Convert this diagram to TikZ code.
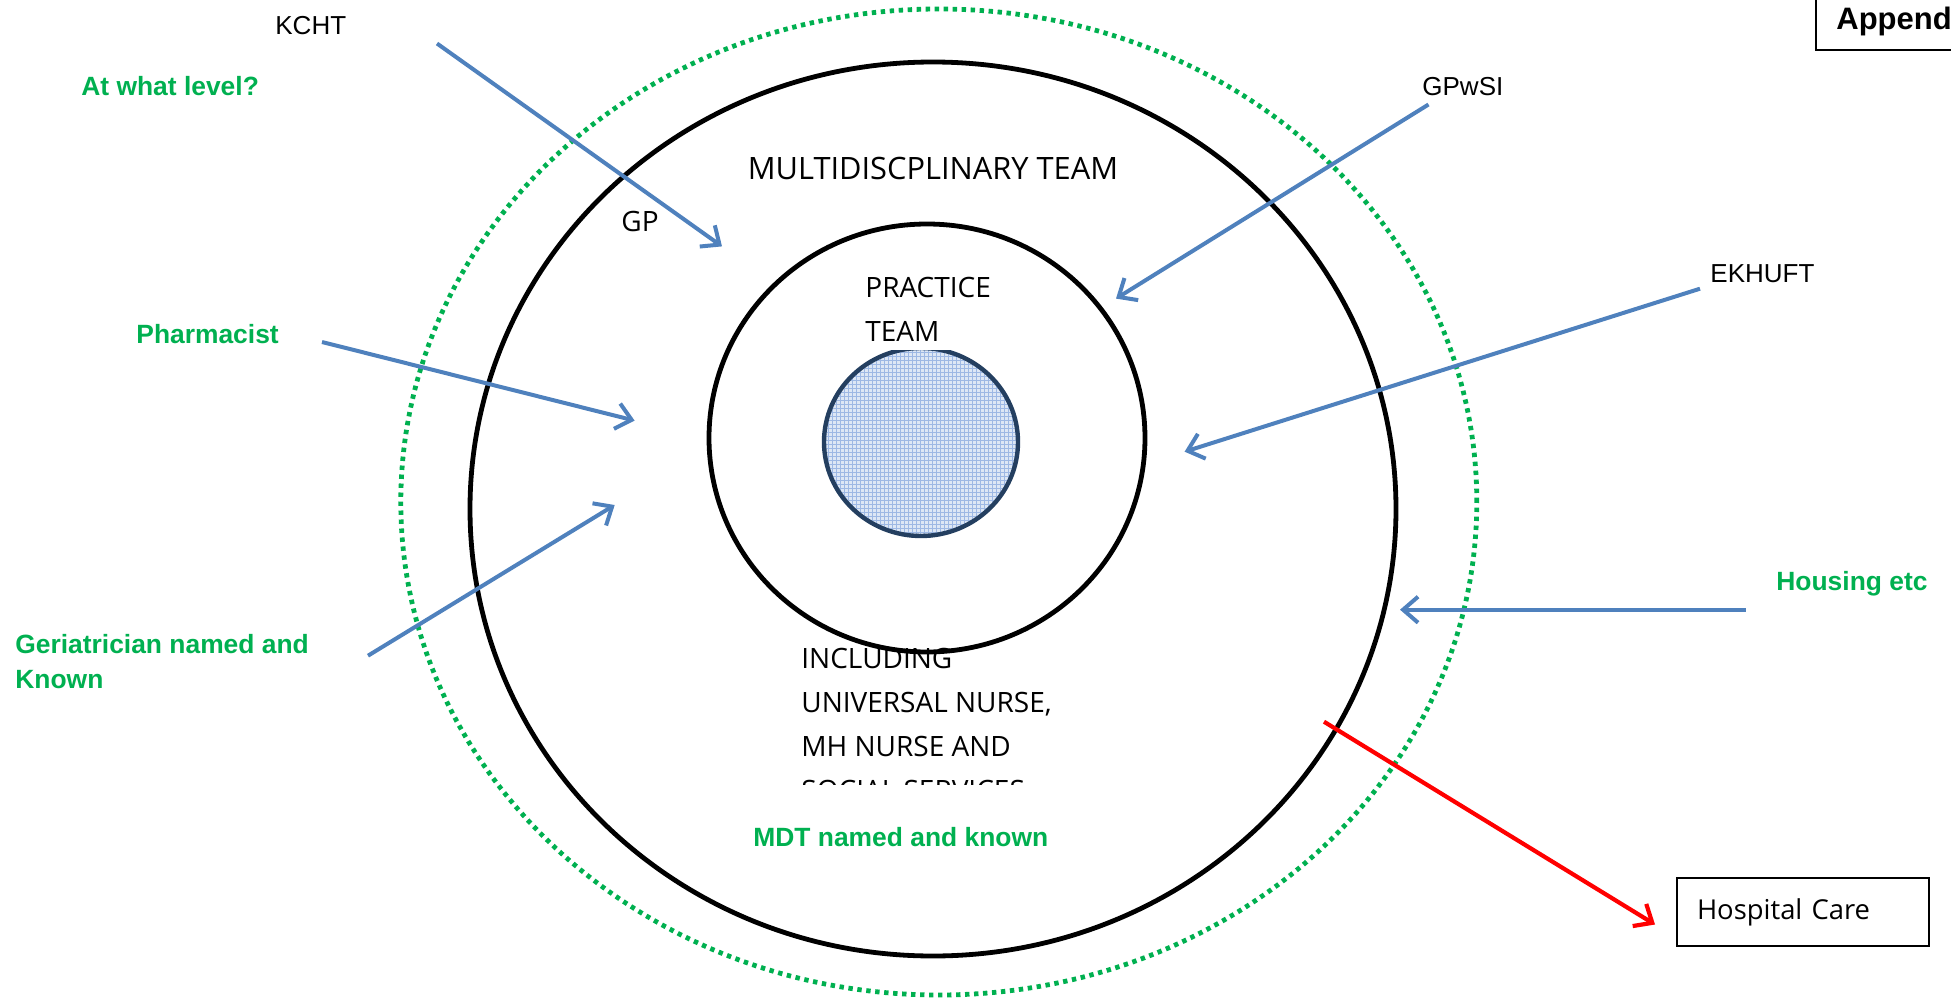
\documentclass[tikz,border=0pt]{standalone}
\usepackage{fontspec}
\setmainfont{Liberation Sans}
\newfontfamily\segoe{Open Sans}
\usetikzlibrary{arrows.meta}
\definecolor{gbright}{HTML}{00B050}
\definecolor{arrowblue}{HTML}{4F81BD}
\definecolor{navyring}{HTML}{243F60}
\definecolor{meshfill}{HTML}{DDE7F5}
\definecolor{meshline}{HTML}{9DB8E4}
\begin{document}
\begin{tikzpicture}[x=0.5pt,y=-0.5pt,
  lbl/.style={font=\fontsize{13}{15}\selectfont, inner sep=0pt},
  glbl/.style={font=\fontsize{13.2}{17.5}\selectfont\bfseries, text=gbright, inner sep=0pt, align=left},
  team/.style={font=\segoe\fontsize{14}{22}\selectfont, inner sep=0pt, align=left},
  bluearrow/.style={draw=arrowblue, line width=2pt, -{Straight Barb[length=7.5pt,width=13pt,line width=2pt]}},
  redarrow/.style={draw=red, line width=2.1pt, -{Straight Barb[length=7.5pt,width=13pt,line width=2.1pt]}},
  ring/.style={draw=black, line width=2.4pt},
]
\useasboundingbox (0,0) rectangle (1951,1001);
\clip (0,0) rectangle (1951,1001);

% outer dotted ring
\draw[gbright, line width=2.4pt, dash pattern=on 2.2pt off 2.3pt] (938.8,502) ellipse [x radius=269pt, y radius=246.5pt];
% big black ring
\draw[ring] (933,509) ellipse [x radius=231.5pt, y radius=223.5pt];

% including text (clipped at bottom)
\begin{scope}
  \clip (780,620) rectangle (1100,784);
  \node[team, anchor=north west] (incl) at (801,648) {INCLUDING\\UNIVERSAL NURSE,\\MH NURSE AND\\SOCIAL SERVICES};
\end{scope}

% inner ring
\draw[ring] (927,438) ellipse [x radius=109pt, y radius=107pt];

% small meshed circle
\begin{scope}
  \clip (921,442) ellipse [x radius=48.5pt, y radius=47pt];
  \fill[meshfill] (810,330) rectangle (1030,555);
  \draw[meshline, line width=0.3pt] (810,330) grid[step=2pt] (1030,555);
\end{scope}
\draw[navyring, line width=2.2pt] (921,442) ellipse [x radius=48.5pt, y radius=47pt];

% practice team label with white background
\fill[white] (858,262) rectangle (1000,350);
\node[team, anchor=north west] (practice) at (865,277) {PRACTICE\\TEAM};

\node[team, font=\segoe\fontsize{15.4}{18}\selectfont] (mdt) at (933,168) {MULTIDISCPLINARY TEAM};
\node[team] (gp) at (640,221.5) {GP};

% labels
\node[lbl, anchor=base west] (kcht) at (275,34) {KCHT};
\node[lbl, anchor=base west] (gpwsi) at (1422,95) {GPwSI};
\node[lbl, anchor=base west] (ekhuft) at (1710,282) {EKHUFT};
\node[glbl, anchor=base west] (level) at (81,95) {At what level?};
\node[glbl, anchor=base west] (pharm) at (136,343) {Pharmacist};
\node[glbl, anchor=base west] (housing) at (1776,590) {Housing etc};
\node[glbl, anchor=north west] (geri) at (15,633.5) {Geriatrician named and\\Known};
\node[glbl, anchor=base west] (mdtknown) at (753,846) {MDT named and known};

% hospital care box
\node[draw, line width=0.7pt, minimum width=126pt, minimum height=34pt, text width=106pt, inner xsep=10pt, align=left,
      font=\segoe\fontsize{13.7}{16}\selectfont] (hosp) at (1803,912) {Hospital Care};

% appendix box
\draw[line width=0.8pt] (1816,-10) rectangle (2010,50);
\node[font=\fontsize{15.5}{17}\selectfont\bfseries, anchor=base west, inner sep=0pt] (append) at (1836,29) {Appendix};

% arrow coordinates
\coordinate (kchtS) at (437,43.5);   \coordinate (kchtE) at (722,246.4);
\coordinate (gpwsiS) at (1428.5,104.5); \coordinate (gpwsiE) at (1116,298.6);
\coordinate (ekhS) at (1700,288.7);  \coordinate (ekhE) at (1184.6,451.7);
\coordinate (phS) at (322,342);      \coordinate (phE) at (634.6,420.6);
\coordinate (geS) at (368,655.7);    \coordinate (geE) at (614.7,505);
\coordinate (hoS) at (1745.8,609.7); \coordinate (hoE) at (1400,609.7);
\coordinate (redS) at (1324,721.7);  \coordinate (redE) at (1655,924.5);

\draw[bluearrow] (kchtS) -- (kchtE);
\draw[bluearrow] (gpwsiS) -- (gpwsiE);
\draw[bluearrow] (ekhS) -- (ekhE);
\draw[bluearrow] (phS) -- (phE);
\draw[bluearrow] (geS) -- (geE);
\draw[bluearrow] (hoS) -- (hoE);
\draw[redarrow] (redS) -- (redE);
\end{tikzpicture}
\end{document}
